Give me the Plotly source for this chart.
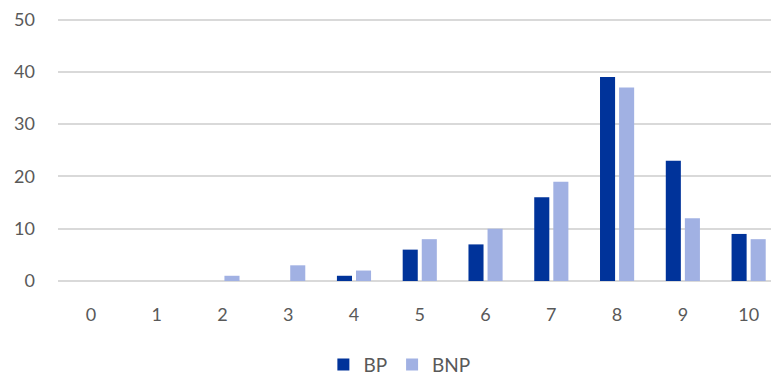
import plotly.graph_objects as go

categories = [0, 1, 2, 3, 4, 5, 6, 7, 8, 9, 10]
bp_values = [0, 0, 0, 0, 1, 6, 7, 16, 39, 23, 9]
bnp_values = [0, 0, 1, 3, 2, 8, 10, 19, 37, 12, 8]
y_ticks = [0, 10, 20, 30, 40, 50]

font_family = "Lato, Open Sans, sans-serif"
grey = "#595959"

fig = go.Figure()
fig.add_trace(go.Bar(x=categories, y=bp_values, name="BP", marker_color="#00339A",
                     marker_line_width=0))
fig.add_trace(go.Bar(x=categories, y=bnp_values, name="BNP", marker_color="#A1B1E3",
                     marker_line_width=0))

fig.update_layout(
    width=771, height=376,
    margin=dict(l=58, r=0, t=18, b=95, autoexpand=False),
    plot_bgcolor="white", paper_bgcolor="white",
    barmode="group", bargap=0.42, bargroupgap=0.21,
    font=dict(family=font_family, size=18, color=grey),
    showlegend=True,
    legend=dict(orientation="h", xref="container", yref="container",
                x=0.518, xanchor="center", y=0.03, yanchor="middle",
                font=dict(size=19, color=grey), itemwidth=30,
                traceorder="normal"),
)
fig.update_xaxes(
    type="linear", range=[-0.5, 10.34], tickvals=categories,
    ticktext=[str(c) for c in categories],
    showgrid=False, zeroline=False, showline=False, automargin=False,
    ticks="", ticklabelstandoff=21,
    tickfont=dict(size=18, color=grey),
)
fig.update_yaxes(
    range=[0, 50.3], tickvals=y_ticks, automargin=False,
    showgrid=True, gridcolor="#D9D9D9", gridwidth=1.7,
    zeroline=True, zerolinecolor="#D9D9D9", zerolinewidth=1.7,
    showline=False, ticks="", ticklabelstandoff=22,
    tickfont=dict(size=18, color=grey),
)

fig.write_html(
    "out.html",
    config={"displayModeBar": False},
    post_script="document.body.style.margin='0';document.body.style.overflow='hidden';",
)
